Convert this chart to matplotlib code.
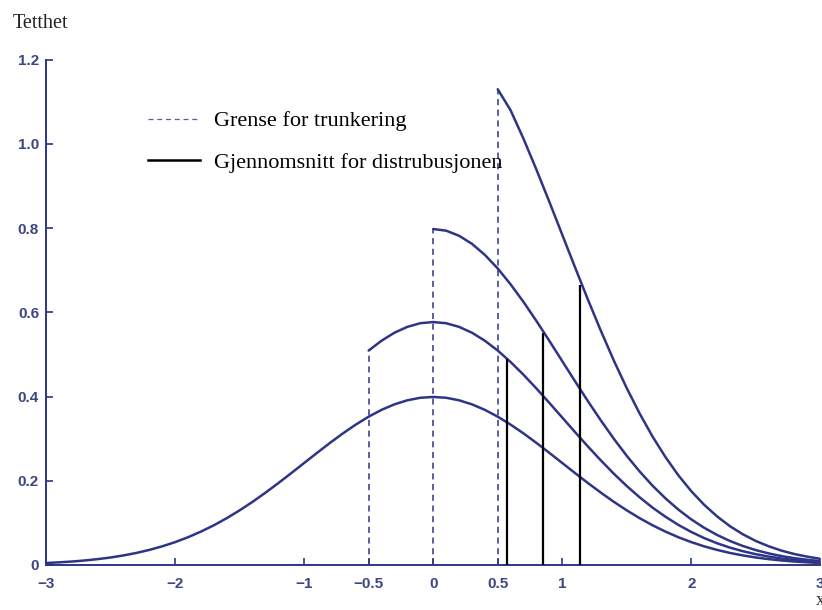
#!/usr/bin/env python3
"""Truncated standard normal densities with truncation limits and means."""

import matplotlib.pyplot as plt
from matplotlib.lines import Line2D

NAVY = '#2e3585'
LABEL = '#3d4680'

# x grid (step 0.1) and density values
X_FULL = [round(-3 + 0.1 * i, 1) for i in range(61)]
Y_FULL = [0.0044, 0.0060, 0.0079, 0.0104, 0.0136, 0.0175, 0.0224, 0.0283, 0.0355, 0.0440,
          0.0540, 0.0656, 0.0790, 0.0940, 0.1109, 0.1295, 0.1497, 0.1714, 0.1942, 0.2179,
          0.2420, 0.2661, 0.2897, 0.3123, 0.3332, 0.3521, 0.3683, 0.3814, 0.3910, 0.3970,
          0.3989,
          0.3970, 0.3910, 0.3814, 0.3683, 0.3521, 0.3332, 0.3123, 0.2897, 0.2661, 0.2420,
          0.2179, 0.1942, 0.1714, 0.1497, 0.1295, 0.1109, 0.0940, 0.0790, 0.0656, 0.0540,
          0.0440, 0.0355, 0.0283, 0.0224, 0.0175, 0.0136, 0.0104, 0.0079, 0.0060, 0.0044]

# truncated at -0.5
X_T1 = [round(-0.5 + 0.1 * i, 1) for i in range(36)]
Y_T1 = [0.5092, 0.5326, 0.5516, 0.5655, 0.5741, 0.5769, 0.5741, 0.5655, 0.5516, 0.5326,
        0.5092, 0.4819, 0.4516, 0.4190, 0.3848, 0.3500, 0.3151, 0.2809, 0.2479, 0.2165,
        0.1873, 0.1604, 0.1359, 0.1143, 0.0949, 0.0781, 0.0636, 0.0513, 0.0409, 0.0324,
        0.0253, 0.0197, 0.0150, 0.0114, 0.0087, 0.0064]

# truncated at 0
X_T2 = [round(0.1 * i, 1) for i in range(31)]
Y_T2 = [0.7979, 0.7940, 0.7820, 0.7628, 0.7366, 0.7042, 0.6664, 0.6246, 0.5794, 0.5322,
        0.4840, 0.4358, 0.3884, 0.3428, 0.2994, 0.2590, 0.2218, 0.1880, 0.1580, 0.1312,
        0.1080, 0.0880, 0.0710, 0.0566, 0.0448, 0.0350, 0.0272, 0.0208, 0.0158, 0.0120,
        0.0088]

# truncated at 0.5
X_T3 = [round(0.5 + 0.1 * i, 1) for i in range(26)]
Y_T3 = [1.1300, 1.0799, 1.0122, 0.9389, 0.8625, 0.7843, 0.7062, 0.6294, 0.5555, 0.4852,
        0.4197, 0.3594, 0.3047, 0.2560, 0.2126, 0.1750, 0.1426, 0.1151, 0.0917, 0.0726,
        0.0567, 0.0441, 0.0337, 0.0256, 0.0194, 0.0143]

# truncation limits and the density height there
CUT_X = [-0.5, 0.0, 0.5]
CUT_Y = [0.509, 0.798, 1.130]

# means of the truncated distributions and curve heights
MEAN_X = [0.57, 0.85, 1.14]
MEAN_Y = [0.490, 0.552, 0.665]

X_TICKS = [-3, -2, -1, -0.5, 0, 0.5, 1, 2, 3]
X_TICK_LABELS = ['\u22123', '\u22122', '\u22121', '\u22120.5', '0', '0.5', '1', '2', '3']
Y_TICKS = [0, 0.2, 0.4, 0.6, 0.8, 1.0, 1.2]
Y_TICK_LABELS = ['0', '0.2', '0.4', '0.6', '0.8', '1.0', '1.2']


def main():
    fig = plt.figure(figsize=(8.22, 6.10), dpi=100)
    ax = fig.add_axes([0.056, 0.074, 0.942, 0.828])

    for xs, ys in [(X_FULL, Y_FULL), (X_T1, Y_T1), (X_T2, Y_T2), (X_T3, Y_T3)]:
        ax.plot(xs, ys, color=NAVY, linewidth=1.8, solid_capstyle='round', zorder=3)

    ax.vlines(CUT_X, 0, CUT_Y, colors=NAVY, linestyles=(0, (4, 3)), linewidth=1.1, zorder=2)
    ax.vlines(MEAN_X, -0.008, MEAN_Y, colors='black', linewidth=1.6, zorder=4)

    ax.set_xlim(-3, 3)
    ax.set_ylim(0, 1.2)
    for side in ['top', 'right']:
        ax.spines[side].set_visible(False)
    for side in ['left', 'bottom']:
        ax.spines[side].set_color(NAVY)
        ax.spines[side].set_linewidth(1.4)

    ax.set_xticks(X_TICKS)
    ax.set_xticklabels(X_TICK_LABELS)
    ax.set_yticks(Y_TICKS)
    ax.set_yticklabels(Y_TICK_LABELS)
    ax.tick_params(direction='in', length=5, width=1.2, color=NAVY,
                   labelcolor=LABEL, labelsize=11)
    ax.tick_params(axis='x', pad=9)
    ax.tick_params(axis='y', pad=5)
    for lab in ax.get_xticklabels() + ax.get_yticklabels():
        lab.set_fontweight('bold')
        lab.set_family('Liberation Sans')

    fig.text(0.016, 0.962, 'Tetthet', family='Liberation Serif', fontsize=14.5,
             ha='left', va='center', color='#222222')
    fig.text(0.992, 0.016, 'x', family='Liberation Serif', fontsize=13,
             ha='left', va='center', color='#333333')

    handles = [Line2D([], [], color=NAVY, linestyle=(0, (4, 3)), linewidth=0.9, alpha=0.8),
               Line2D([], [], color='black', linewidth=1.8)]
    ax.legend(handles, ['Grense for trunkering', 'Gjennomsnitt for distrubusjonen'],
              loc='upper left', bbox_to_anchor=(0.132, 0.899), frameon=False,
              borderpad=0, borderaxespad=0, handlelength=2.35, handletextpad=0.6,
              labelspacing=0.95, prop={'family': 'Liberation Serif', 'size': 16})

    fig.savefig('out.png', dpi=100)


if __name__ == '__main__':
    main()
